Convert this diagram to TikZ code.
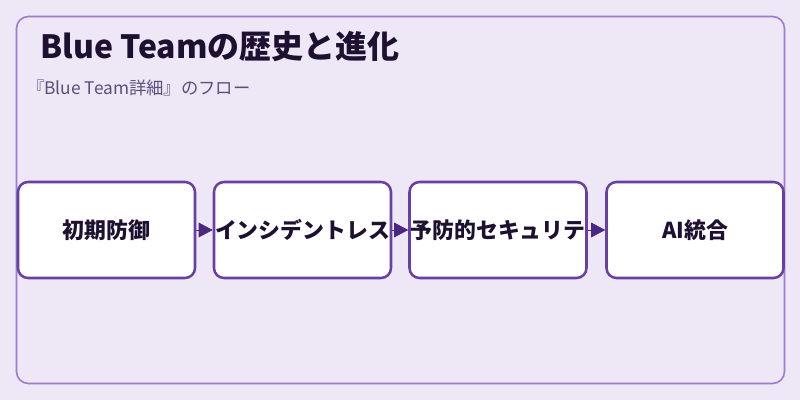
\documentclass[tikz,border=0pt]{standalone}
\usepackage{fontspec}
\setmainfont{Noto Sans CJK JP}
\usetikzlibrary{arrows.meta}
\definecolor{bgpurple}{HTML}{EDE7F6}
\definecolor{frameline}{HTML}{9C7BD0}
\definecolor{stageline}{HTML}{6A3FA3}
\definecolor{flowtip}{HTML}{4A2880}
\definecolor{labelink}{HTML}{1E1030}
\definecolor{subink}{HTML}{5B4E7A}
\tikzstyle{stage}=[draw=stageline,fill=white,line width=1.9pt,rounded corners=7.5pt,minimum width=132.75pt,minimum height=72pt,inner sep=0pt,text=labelink,font=\bfseries\fontsize{16.4}{19}\selectfont]

\begin{document}
\begin{tikzpicture}[x=0.75pt,y=-0.75pt,flow/.style={draw=flowtip,line width=0.6pt,-{Triangle[length=10.5pt,width=11pt]}}]
    \fill[bgpurple] (0,0) rectangle (800,400);
    \useasboundingbox (0,0) rectangle (800,400);
    \draw[frameline,line width=1.2pt,rounded corners=9pt] (16.5,16.5) rectangle (784.5,383.5);

    \node[anchor=base west,inner xsep=0pt,text=labelink,font=\bfseries\fontsize{24}{28}\selectfont] (title) at (40,58) {Blue Teamの歴史と進化};
    \node[anchor=base west,inner xsep=0pt,text=subink,font=\fontsize{13}{15}\selectfont] (sub) at (27,94) {『Blue Team詳細』のフロー};

    \node[stage] (S1) at (106.5,230) {初期防御};
    \node[stage] (S2) at (302.5,230) {インシデントレス};
    \node[stage] (S3) at (498,230)   {予防的セキュリテ};
    \node[stage] (S4) at (695,230)   {AI統合};

    \draw[flow] (S1) -- (S2);
    \draw[flow] (S2) -- (S3);
    \draw[flow] (S3) -- (S4);
\end{tikzpicture}
\end{document}
